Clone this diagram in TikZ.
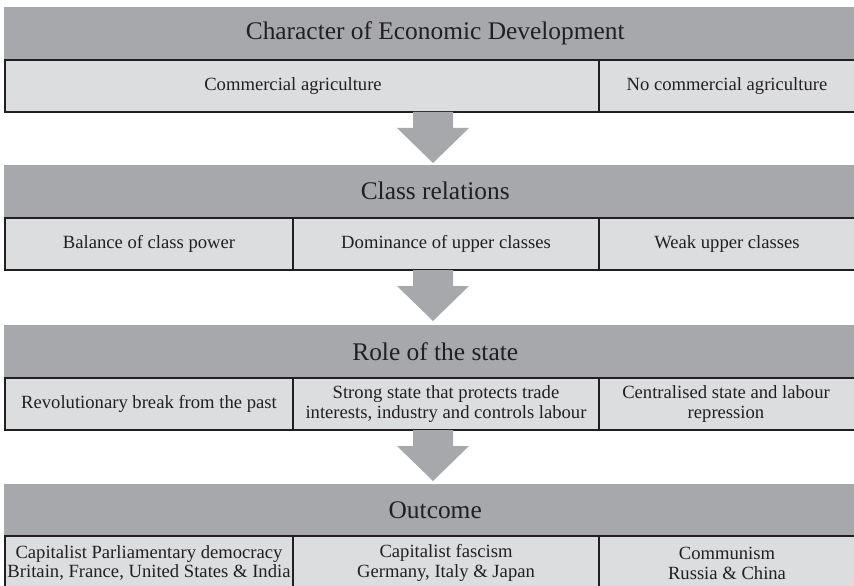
\documentclass[tikz,border=0pt]{standalone}
\usepackage{fontspec}
\setmainfont{Liberation Serif}
\usetikzlibrary{calc}
\definecolor{bannergray}{HTML}{A7A8AB}
\definecolor{cellgray}{HTML}{DCDDDF}
\definecolor{inkdark}{HTML}{231F20}
\tikzset{
  banner/.style={fill=bannergray, minimum height=52bp, minimum width=858bp, inner sep=0pt,
    anchor=north west, text=inkdark, font=\fontsize{25.5}{29}\selectfont},
  cell/.style={draw=inkdark, line width=2bp, fill=cellgray, minimum height=52bp, inner sep=0pt,
    anchor=north west, align=center, text=inkdark, font=\fontsize{18.7}{20}\selectfont},
  flowarrow/.style={fill=bannergray, draw=none}
}
\newcommand\downflow[2]{%
  \fill[flowarrow] ($(#1)+(-20,0)$) -- ($(#1)+(-20,16)$) -- ($(#1)+(-36,16)$) -- (#2)
    -- ($(#1)+(36,16)$) -- ($(#1)+(20,16)$) -- ($(#1)+(20,0)$) -- cycle;}
\begin{document}
\begin{tikzpicture}[x=1bp,y=-1bp]
\useasboundingbox (0,0) rectangle (854,586);
% Row 1
\node[banner] (h1) at (4,7) {\hspace*{4bp}Character of Economic Development};
\node[cell, minimum width=594bp] (c11) at (4,59) {\hspace*{-18bp}Commercial agriculture};
\node[cell, minimum width=262bp] (c12) at (598,59) {\hspace*{-6bp}No commercial agriculture};
% Row 2
\node[banner] (h2) at (4,165) {\hspace*{4bp}Class relations};
\node[cell, minimum width=288bp] (c21) at (4,217) {Balance of class power};
\node[cell, minimum width=306bp] (c22) at (292,217) {Dominance of upper classes};
\node[cell, minimum width=262bp] (c23) at (598,217) {\hspace*{-6bp}Weak upper classes};
% Row 3
\node[banner] (h3) at (4,325) {\hspace*{4bp}Role of the state};
\node[cell, minimum width=288bp] (c31) at (4,377) {Revolutionary break from the past};
\node[cell, minimum width=306bp] (c32) at (292,377) {Strong state that protects trade\\interests, industry and controls labour};
\node[cell, minimum width=262bp] (c33) at (598,377) {\hspace*{-8bp}Centralised state and labour\\\hspace*{-8bp}repression};
% Row 4
\node[banner] (h4) at (4,484) {\hspace*{4bp}Outcome};
\node[cell, minimum width=288bp, minimum height=54bp] (c41) at (4,535) {Capitalist Parliamentary democracy\\Britain, France, United States \& India};
\node[cell, minimum width=306bp, minimum height=54bp] (c42) at (292,535) {Capitalist fascism\\Germany, Italy \& Japan};
\node[cell, minimum width=262bp, minimum height=54bp] (c43) at (598,535) {\hspace*{-6bp}Communism\\\hspace*{-6bp}Russia \& China};
% Arrows
\coordinate (a1s) at (433,112);
\coordinate (a1e) at (433,163);
\coordinate (a2s) at (433,270);
\coordinate (a2e) at (433,321);
\coordinate (a3s) at (433,430);
\coordinate (a3e) at (433,481);
\downflow{a1s}{a1e}
\downflow{a2s}{a2e}
\downflow{a3s}{a3e}
\end{tikzpicture}
\end{document}
